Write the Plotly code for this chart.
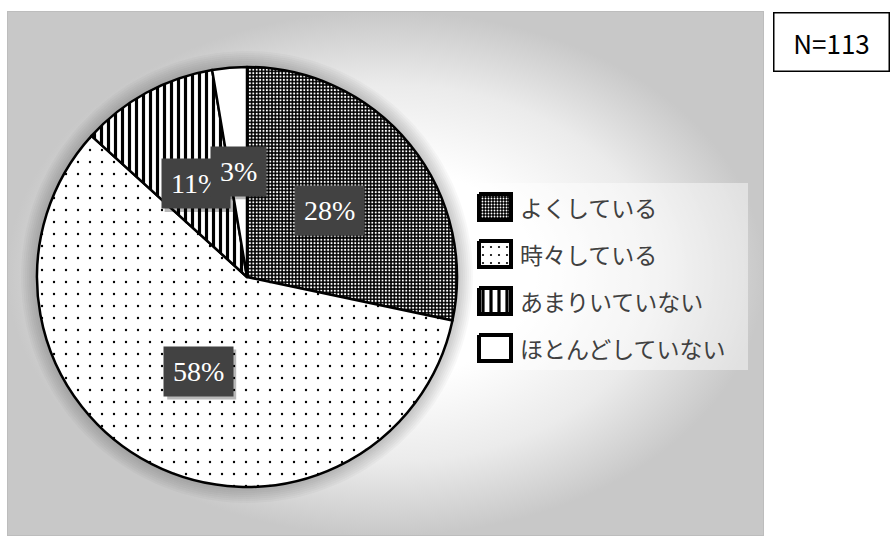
import numpy as np
import plotly.graph_objects as go

# ---------------- data ----------------
categories = ["よくしている", "時々している", "あまりいていない", "ほとんどしていない"]
counts = [32, 66, 12, 3]
pct_labels = ["28%", "58%", "11%", "3%"]
n_label = "N=113"

# ---------------- layout geometry (pixels) ----------------
W, H = 894, 536
BX0, BX1, BY0, BY1 = 7, 764, 11, 536      # chart area box
PCX, PCY, PR = 247, 277, 210              # pie centre / radius


def pxx(px):
    return (px - BX0) / (BX1 - BX0)


def pxy(py):
    return (BY1 - py) / (BY1 - BY0)


fig = go.Figure()

# background with radial gradient
fig.add_trace(go.Scatter(
    x=[BX0, BX1, BX1, BX0, BX0], y=[BY0, BY0, BY1, BY1, BY0],
    mode="lines", fill="toself",
    fillgradient=dict(type="radial",
                      colorscale=[[0, "#ffffff"], [0.4, "#ffffff"],
                                  [0.72, "#ebebeb"], [1, "#c8c8c8"]]),
    line=dict(color="#bdbdbd", width=2),
    hoverinfo="skip", showlegend=False))

# soft shadow around the pie
t = np.linspace(0, 2 * np.pi, 181)
for k in range(8):
    rr = PR + 2 + 2 * k
    fig.add_trace(go.Scatter(
        x=PCX + rr * np.cos(t), y=PCY + rr * np.sin(t),
        mode="lines", fill="toself", fillcolor="rgba(0,0,0,0.028)",
        line=dict(width=0), hoverinfo="skip", showlegend=False))

# legend background
LX0, LX1, LY0, LY1 = 476, 748, 183, 370
fig.add_trace(go.Scatter(
    x=[LX0, LX1, LX1, LX0, LX0], y=[LY0, LY0, LY1, LY1, LY0],
    mode="lines", fill="toself", fillcolor="rgba(255,255,255,0.45)",
    line=dict(width=0), hoverinfo="skip", showlegend=False))

# legend keys (custom)
key_shapes = [".", ".", "|", ""]
key_bg = ["black", "white", "white", "white"]
key_fg = ["white", "black", "black", "white"]
key_size = [3, 8, 8, 8]
key_sol = [0.3, 0.06, 0.4, 0.3]
KY0, KDY = 207, 47
for i, cat in enumerate(categories):
    yc = KY0 + KDY * i
    x0, x1, y0, y1 = 479, 511, yc - 13, yc + 13
    fig.add_trace(go.Scatter(
        x=[x0, x1, x1, x0, x0], y=[y0, y0, y1, y1, y0],
        mode="lines", fill="toself", fillcolor=key_bg[i],
        fillpattern=dict(shape=key_shapes[i], bgcolor=key_bg[i], fgcolor=key_fg[i],
                         size=key_size[i], solidity=key_sol[i], fillmode="replace"),
        line=dict(color="black", width=4),
        hoverinfo="skip", showlegend=False))

# pie
fig.add_trace(go.Pie(
    labels=categories, values=counts, sort=False, direction="clockwise",
    rotation=0, textinfo="none", hoverinfo="label+percent", showlegend=False,
    domain=dict(x=[pxx(PCX - PR), pxx(PCX + PR)], y=[pxy(PCY + PR), pxy(PCY - PR)]),
    marker=dict(
        colors=["black", "white", "white", "white"],
        line=dict(color="black", width=2.5),
        pattern=dict(shape=[".", ".", "|", ""],
                     bgcolor=["black", "white", "white", "white"],
                     fgcolor=["white", "black", "black", "white"],
                     size=[3.4, 12, 7, 8],
                     solidity=[0.3, 0.03, 0.45, 0.3],
                     fillmode="replace"))))

annotations = []
shapes = []
# data labels at half radius along each slice's mid angle
total = sum(counts)
cum = 0
for v, lab in zip(counts, pct_labels):
    theta = 2 * np.pi * (cum + v / 2) / total
    cum += v
    lx = PCX + 0.505 * PR * np.sin(theta)
    ly = PCY - 0.505 * PR * np.cos(theta)
    bw = 14 * (len(lab) - 1) + 23 + 18
    bh = 50
    shapes.append(dict(
        type="rect", xref="x", yref="y", layer="above",
        x0=lx - bw / 2 + 3, x1=lx + bw / 2 + 3,
        y0=ly - bh / 2 + 3, y1=ly + bh / 2 + 3,
        fillcolor="rgba(0,0,0,0.28)", line=dict(width=0)))
    annotations.append(dict(
        x=pxx(lx), y=pxy(ly), xref="paper", yref="paper",
        xanchor="center", yanchor="middle",
        text=lab, showarrow=False,
        font=dict(family="Liberation Serif", size=28, color="white"),
        bgcolor="#424242", borderpad=9))

# legend texts
for i, cat in enumerate(categories):
    yc = KY0 + KDY * i
    annotations.append(dict(
        x=pxx(518), y=pxy(yc), xref="paper", yref="paper",
        xanchor="left", yanchor="middle", text=cat, showarrow=False,
        font=dict(family="Noto Sans CJK JP", size=23, color="#404040")))

# N box
annotations.append(dict(
    x=pxx(831.5), y=pxy(42), xref="paper", yref="paper",
    xanchor="center", yanchor="middle",
    text=n_label, showarrow=False, width=114, height=57, borderpad=0,
    bordercolor="black", borderwidth=1.5, bgcolor="white",
    font=dict(family="Noto Sans CJK JP", size=26, color="black")))

fig.update_layout(
    width=W, height=H,
    margin=dict(l=BX0, r=W - BX1, t=BY0, b=H - BY1),
    paper_bgcolor="white", plot_bgcolor="white",
    xaxis=dict(range=[BX0, BX1], visible=False, fixedrange=True),
    yaxis=dict(range=[BY1, BY0], visible=False, fixedrange=True),
    annotations=annotations,
    shapes=shapes,
    showlegend=False,
)

fig.write_html("out.html")
